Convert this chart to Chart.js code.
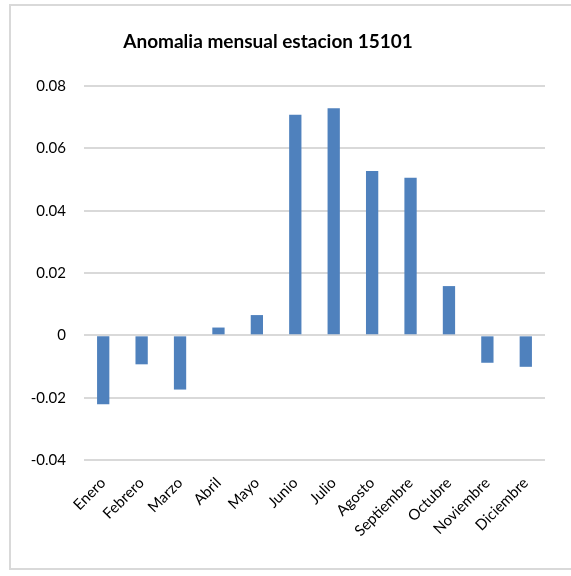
<!DOCTYPE html>
<html>
<head>
<meta charset="utf-8">
<script src="https://cdn.jsdelivr.net/npm/chart.js@4.4.1/dist/chart.umd.min.js"></script>
<style>
  html, body { margin: 0; padding: 0; background: #ffffff; }
  #frame {
    position: absolute; left: 9px; top: 4px; width: 600px; height: 562px;
    border-left: 2px solid #d9d9d9; border-top: 2px solid #d9d9d9; border-bottom: 2px solid #d9d9d9;
  }
  #wrap { position: absolute; left: 0; top: 0; width: 571px; height: 576px; }
</style>
</head>
<body>
<div id="frame"></div>
<div id="wrap"><canvas id="chart" width="571" height="576"></canvas></div>
<script>
const titleText = 'Anomalia mensual estacion 15101';
const months = ['Enero', 'Febrero', 'Marzo', 'Abril', 'Mayo', 'Junio', 'Julio',
                'Agosto', 'Septiembre', 'Octubre', 'Noviembre', 'Diciembre'];
const anomalies = [-0.0221, -0.0093, -0.0174, 0.0025, 0.0065, 0.0708, 0.0729,
                   0.0527, 0.0506, 0.0158, -0.0088, -0.0101];
const yTickLabels = { '-0.04': '-0.04', '-0.02': '-0.02', '0': '0', '0.02': '0.02',
                      '0.04': '0.04', '0.06': '0.06', '0.08': '0.08' };

const FONT = 'Lato, "Open Sans", sans-serif';

// Title drawn centred over the frame
const titlePlugin = {
  id: 'frameTitle',
  afterDraw(chart) {
    const ctx = chart.ctx;
    ctx.save();
    ctx.font = 'bold 19px ' + FONT;
    ctx.fillStyle = '#000000';
    ctx.textAlign = 'center';
    ctx.textBaseline = 'middle';
    ctx.fillText(titleText, 268, 42);
    ctx.restore();
  }
};

new Chart(document.getElementById('chart'), {
  type: 'bar',
  data: {
    labels: months,
    datasets: [{
      data: anomalies,
      backgroundColor: '#4f81bd',
      borderWidth: 0,
      barPercentage: 0.32,
      categoryPercentage: 1.0
    }]
  },
  options: {
    responsive: false,
    animation: false,
    layout: { padding: { top: 86, right: 26, left: 0, bottom: 0 } },
    plugins: { legend: { display: false }, tooltip: { enabled: false }, title: { display: false } },
    scales: {
      x: {
        grid: { display: false, drawTicks: false },
        border: { display: false },
        ticks: {
          color: '#000000',
          font: { family: FONT, size: 15 },
          minRotation: 45, maxRotation: 45,
          padding: 14,
          autoSkip: false
        },
        afterFit(scale) { scale.height = 116; }
      },
      y: {
        min: -0.04, max: 0.08,
        grid: { color: '#d9d9d9', lineWidth: 2, drawTicks: false },
        border: { display: false },
        ticks: {
          stepSize: 0.02,
          color: '#000000',
          font: { family: FONT, size: 15 },
          padding: 18,
          callback(value) {
            const key = String(Math.round(value * 100) / 100);
            return yTickLabels[key] !== undefined ? yTickLabels[key] : '';
          }
        },
        afterFit(scale) { scale.width = 84; }
      }
    }
  },
  plugins: [titlePlugin]
});
</script>
</body>
</html>
